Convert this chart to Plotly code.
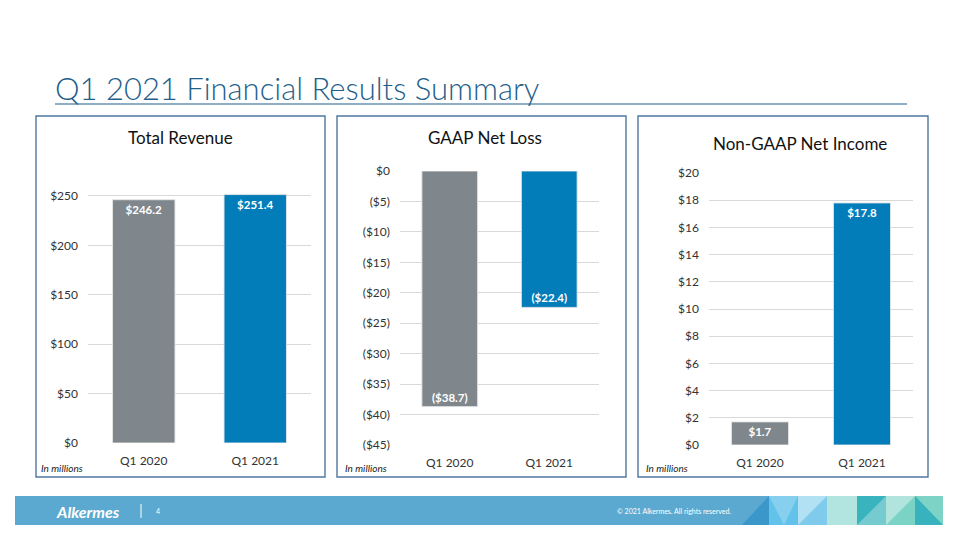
import plotly.graph_objects as go

# Data (USD millions)
periods = ["Q1 2020", "Q1 2021"]
revenue = [246.2, 251.4]
gaap_net_loss = [-38.7, -22.4]
non_gaap_income = [1.7, 17.8]

revenue_ticks = [0, 50, 100, 150, 200, 250]
loss_ticks = [0, -5, -10, -15, -20, -25, -30, -35, -40, -45]
income_ticks = [0, 2, 4, 6, 8, 10, 12, 14, 16, 18, 20]

bar_colors = ["#7F878D", "#027DBA"]
W, H = 960, 540
FONT = "Lato"
OFF = 8  # the page body margin shifts the figure by 8px


def money(v):
    if v < 0:
        return f"(${abs(v):g})"
    return f"${v:g}"


def px(x):
    return (x - OFF) / W


def py(y):
    return 1 - (y - OFF) / H


fig = go.Figure()

panels = [
    # values, ticks, x-axis id, y-axis id, plot box (left, right, top, bottom) in px, range
    (revenue, revenue_ticks, "x", "y", (88, 311, 194, 443), [0, 252]),
    (gaap_net_loss, loss_ticks, "x2", "y2", (400, 599, 171, 445), [-45, 0]),
    (non_gaap_income, income_ticks, "x3", "y3", (709, 913, 173, 445), [0, 20]),
]

for i, (vals, ticks, xa, ya, box, rng) in enumerate(panels):
    fig.add_trace(go.Bar(
        x=periods, y=vals,
        xaxis=xa, yaxis=ya,
        marker=dict(color=bar_colors, line=dict(color="rgba(230,230,230,0.9)", width=1)),
        text=[money(v) for v in vals],
        textposition="inside",
        insidetextanchor="end",
        textangle=0,
        constraintext="none",
        textfont=dict(family=FONT, size=11.5, color="white", weight="bold"),
        hoverinfo="skip",
    ))
    l, r, t, b = box
    sfx = "" if i == 0 else str(i + 1)
    fig.layout["xaxis" + sfx] = dict(
        domain=[px(l), px(r)], anchor=ya, automargin=False,
        showgrid=False, zeroline=False, showline=False, ticks="",
        tickfont=dict(family=FONT, size=12, color="#333333"),
        ticklabelstandoff=9, fixedrange=True,
    )
    fig.layout["yaxis" + sfx] = dict(
        domain=[py(b), py(t)], anchor=xa, range=rng, automargin=False,
        tickvals=ticks, ticktext=[money(v) for v in ticks],
        showgrid=True, gridcolor="#D9D9D9", gridwidth=1,
        zeroline=False, showline=False, ticks="",
        tickfont=dict(family=FONT, size=12, color="#333333"),
        ticklabelstandoff=9, fixedrange=True,
    )

shapes = []
# Slide title underline
shapes.append(dict(type="line", xref="paper", yref="paper",
                   x0=px(55), x1=px(907), y0=py(104), y1=py(104),
                   line=dict(color="#1F5F8B", width=1.2)))

# Panel frames
for l, r in [(36, 325), (337, 626), (638, 928)]:
    shapes.append(dict(type="rect", xref="paper", yref="paper", layer="below",
                       x0=px(l), x1=px(r), y0=py(477), y1=py(116),
                       line=dict(color="#4E789E", width=1.4)))

# Footer band
shapes.append(dict(type="rect", xref="paper", yref="paper", layer="below",
                   x0=px(15), x1=px(943), y0=py(525), y1=py(496),
                   line=dict(width=0), fillcolor="#5BA9D0"))


def tri(pts, color):
    path = "M " + " L ".join(f"{px(x)},{py(y)}" for x, y in pts) + " Z"
    return dict(type="path", path=path, xref="paper", yref="paper", layer="below",
                line=dict(width=0), fillcolor=color)


def block(x0, x1, color):
    return dict(type="rect", xref="paper", yref="paper", layer="below",
                x0=px(x0), x1=px(x1), y0=py(525), y1=py(496),
                line=dict(width=0), fillcolor=color)


T, B = 496, 525
shapes += [
    tri([(742, B), (769, T), (769, B)], "#3B96C9"),
    block(769, 798, "#62C2EA"),
    tri([(769, T), (798, T), (784, B)], "#86CFEE"),
    block(798, 827, "#B2E1F4"),
    tri([(798, B), (827, T), (827, B)], "#7FCBEC"),
    block(827, 857, "#B3E5E0"),
    block(857, 886, "#75CBD0"),
    tri([(857, T), (886, T), (857, B)], "#39B3BD"),
    block(886, 915, "#B0E4DD"),
    tri([(886, B), (915, T), (915, B)], "#7AD3C5"),
    block(915, 943, "#7DD4C6"),
    tri([(915, T), (943, B), (915, B)], "#38B3BE"),
]
# Separator next to logo
shapes.append(dict(type="line", xref="paper", yref="paper",
                   x0=px(141), x1=px(141), y0=py(504), y1=py(518),
                   line=dict(color="white", width=1)))


def note(text, x, y, size, color, xanchor="center", weight="normal"):
    return dict(text=text, x=px(x), y=py(y), xref="paper", yref="paper",
                xanchor=xanchor, yanchor="middle", showarrow=False,
                font=dict(family=FONT, size=size, color=color, weight=weight))


annotations = [
    note("Q1 2021 Financial Results Summary", 53, 88, 31, "#1F5F8B", "left", 300),
    note("Total Revenue", 180, 137, 17, "#111111"),
    note("GAAP Net Loss", 485, 137, 17, "#111111"),
    note("Non-GAAP Net Income", 800, 143, 17, "#111111"),
    note("<i>Alkermes</i>", 54, 511, 16, "white", "left", "bold"),
    note("4", 158, 511, 7, "white"),
    note("© 2021 Alkermes. All rights reserved.", 733, 511, 7, "white", "right"),
]
for x in (39, 343, 644):
    annotations.append(note("<i>In millions</i>", x, 468, 10, "#222222", "left"))

fig.update_layout(
    width=W, height=H,
    margin=dict(l=0, r=0, t=0, b=0),
    paper_bgcolor="white", plot_bgcolor="rgba(0,0,0,0)",
    showlegend=False, bargap=0.44,
    shapes=shapes, annotations=annotations,
)

fig.write_html("out.html")
